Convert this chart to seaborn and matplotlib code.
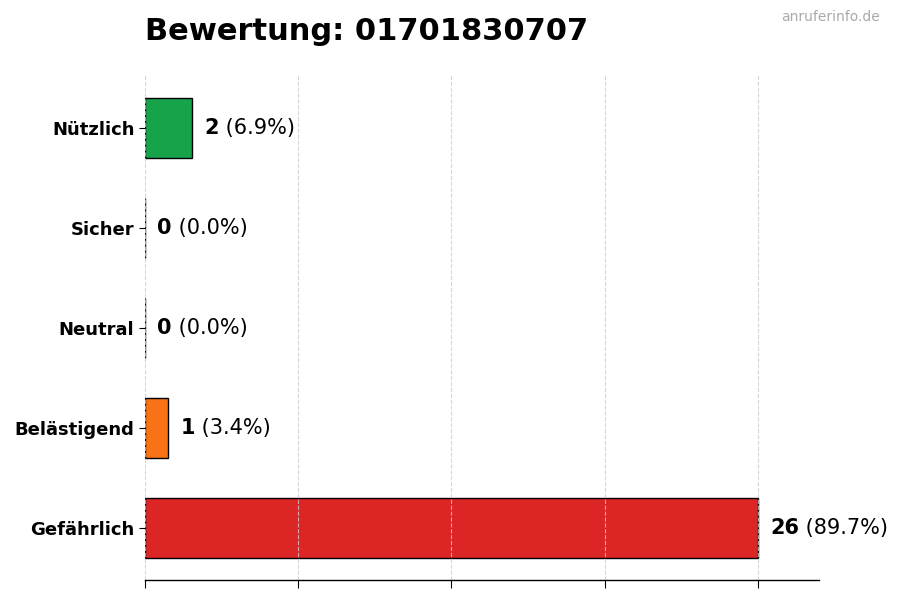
import numpy as np
import pandas as pd
import seaborn as sns
import matplotlib.pyplot as plt

categories = ["Nützlich", "Sicher", "Neutral", "Belästigend", "Gefährlich"]
counts = [2, 0, 0, 1, 26]
percents = [6.9, 0.0, 0.0, 3.4, 89.7]
colors = ["#16a34a", "#3b82f6", "#9ca3af", "#f97316", "#dc2626"]
title = "Bewertung: 01701830707"
watermark = "anruferinfo.de"

sns.set_theme(style="white")
plt.rcParams["font.family"] = ["DejaVu Sans"]
plt.rcParams["axes.axisbelow"] = "line"
plt.rcParams["text.color"] = "black"

df = pd.DataFrame({"Kategorie": categories, "Anzahl": counts})

fig, ax = plt.subplots(figsize=(9, 6), dpi=100)
fig.subplots_adjust(left=0.161, right=0.91, top=0.875, bottom=0.033)

sns.barplot(data=df, x="Anzahl", y="Kategorie", hue="Kategorie",
            palette=colors, orient="h", width=0.6, saturation=1,
            edgecolor="black", linewidth=1, legend=False, ax=ax)

max_val = max(counts)
ax.set_xlim(0, max_val * 1.1)
ax.set_ylim(len(categories) - 0.48, -0.53)
ax.set_xticks(np.linspace(0, max_val, 5))
ax.set_xticklabels([])
ax.set_xlabel("")
ax.set_ylabel("")
ax.tick_params(axis="y", labelsize=13, length=4, width=0.8, colors="black", left=True)
ax.tick_params(axis="x", length=6, width=0.8, colors="black", bottom=True)
for lbl in ax.get_yticklabels():
    lbl.set_fontweight("bold")

ax.grid(axis="x", linestyle="--", color="#cccccc", linewidth=0.8, alpha=0.8)
ax.grid(axis="y", visible=False)
for side in ["top", "right", "left"]:
    ax.spines[side].set_visible(False)
ax.spines["bottom"].set_color("black")
ax.spines["bottom"].set_linewidth(1)

fig.canvas.draw()
renderer = fig.canvas.get_renderer()
inv = ax.transData.inverted()
for i, (c, p) in enumerate(zip(counts, percents)):
    x0 = c + max_val * 0.02
    t1 = ax.text(x0, i, f"{c}", fontsize=15, fontweight="bold", va="center", ha="left", color="black")
    bb = t1.get_window_extent(renderer=renderer)
    x1 = inv.transform((bb.x1, 0))[0]
    ax.text(x1, i, f" ({p:.1f}%)", fontsize=15, va="center", ha="left", color="black")

fig.text(0.161, 0.948, title, fontsize=22, fontweight="bold", ha="left", va="center", color="black")
fig.text(0.978, 0.971, watermark, fontsize=10, color="#aaaaaa", ha="right", va="center")

fig.savefig("out.png", dpi=100)
